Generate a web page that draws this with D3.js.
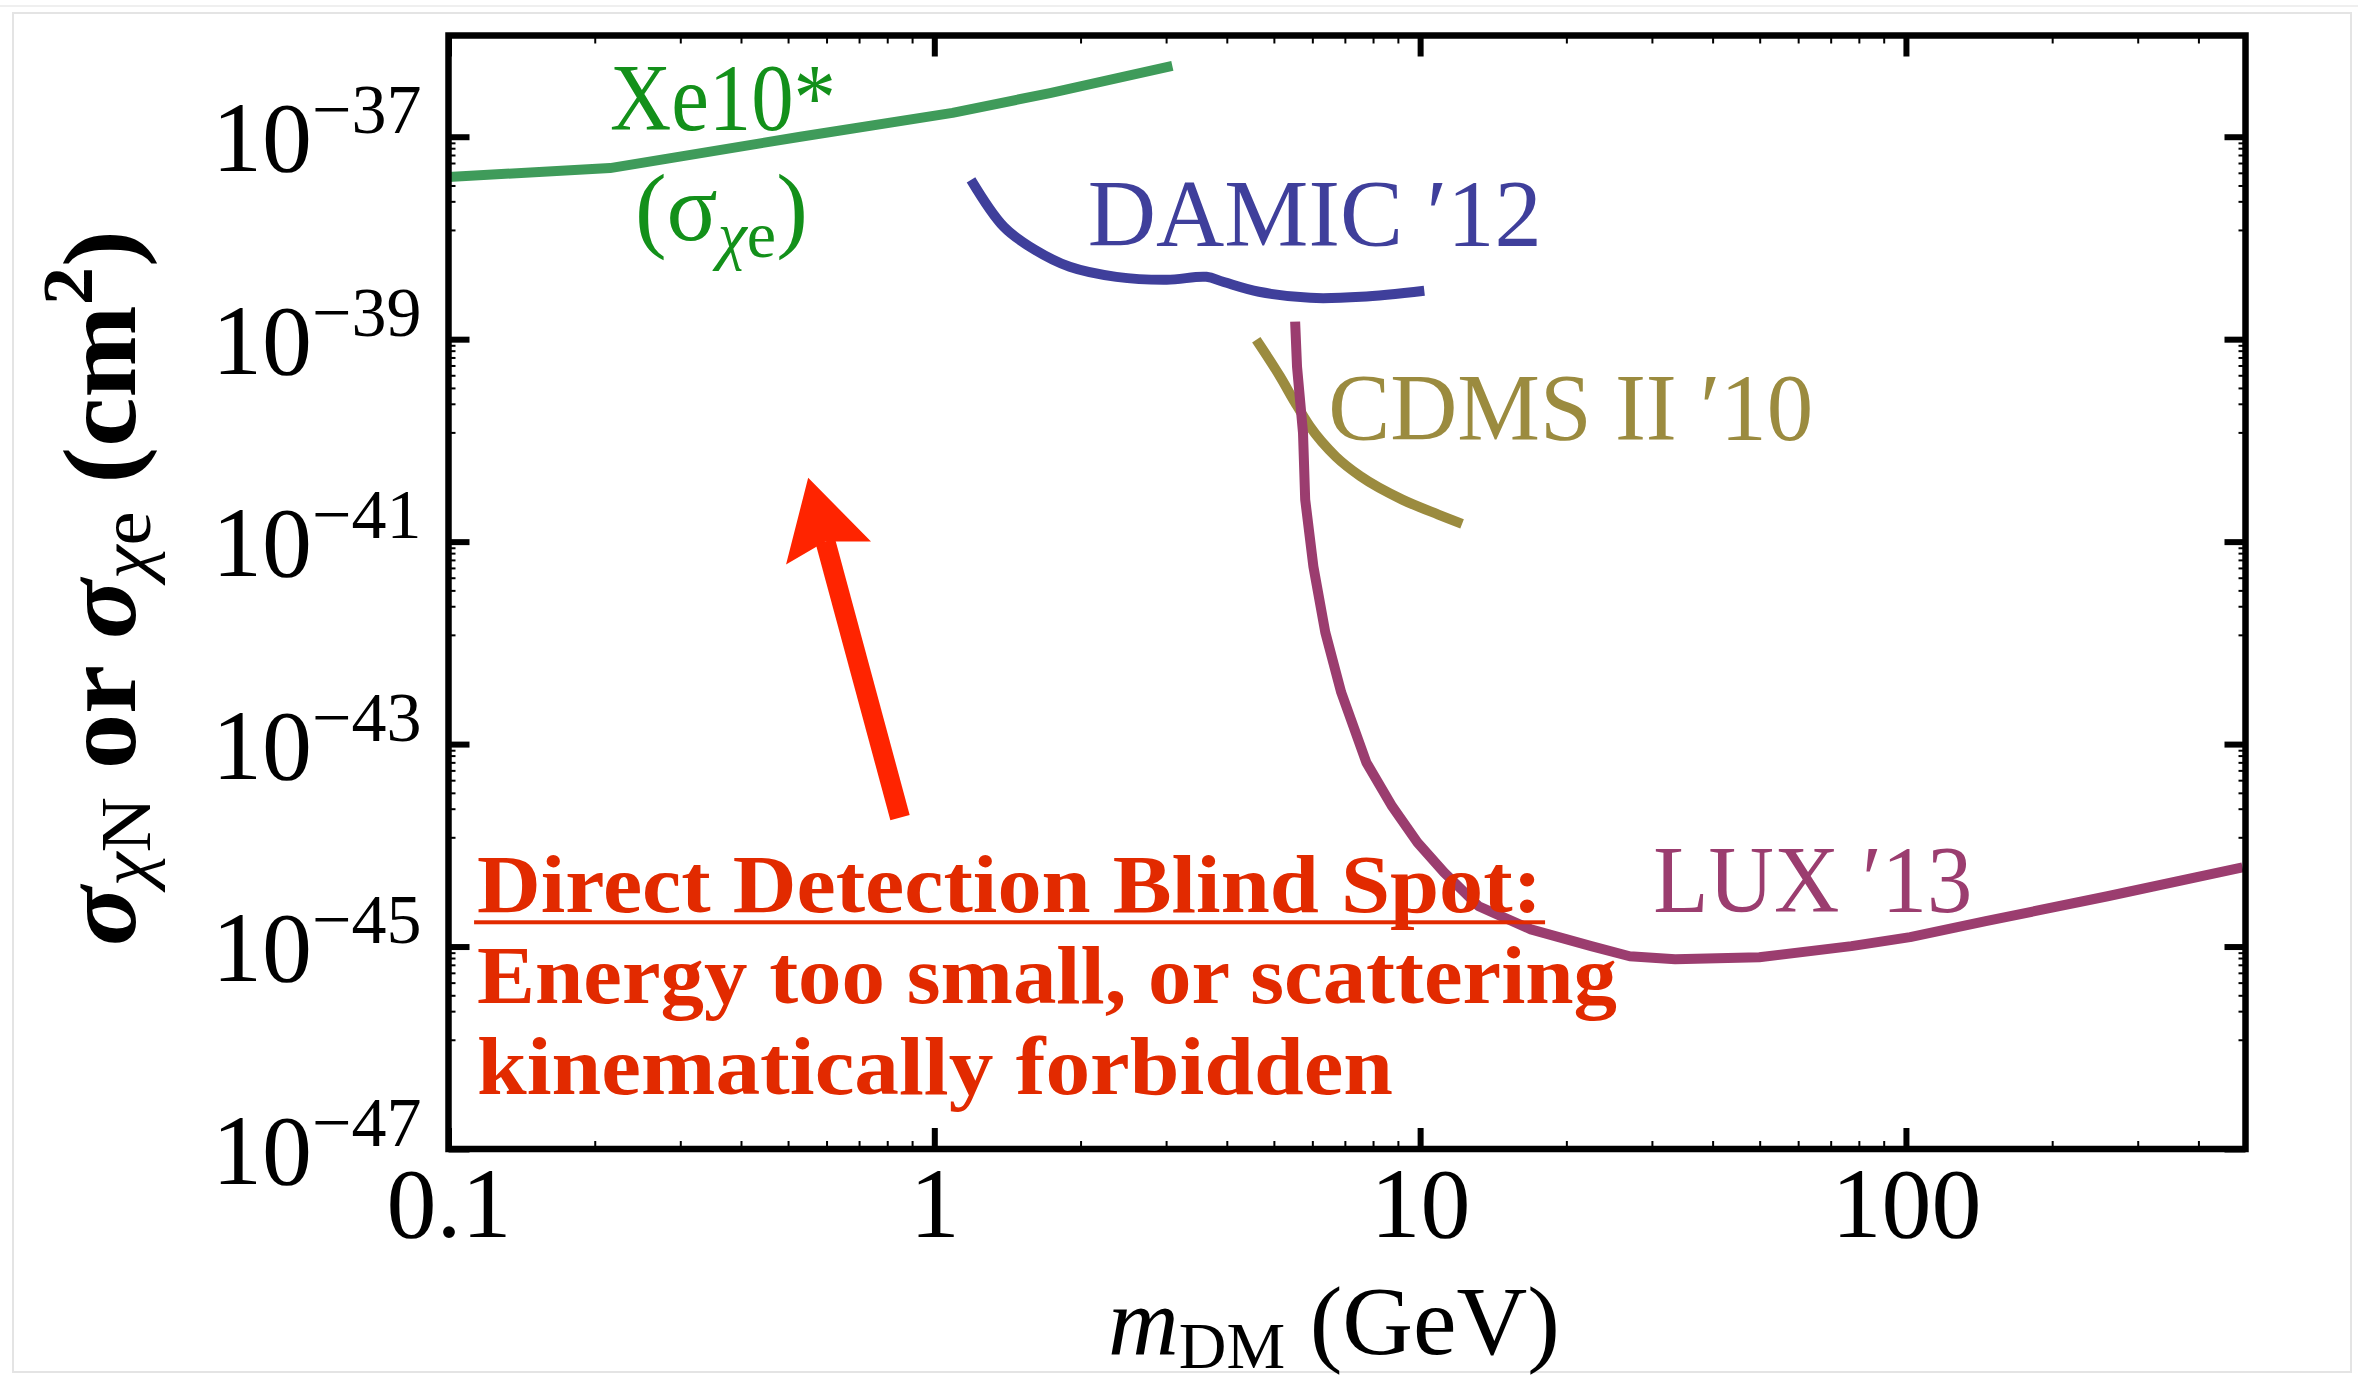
<!DOCTYPE html>
<html><head><meta charset="utf-8">
<script src="https://cdn.jsdelivr.net/npm/d3@7"></script>
<style>body{margin:0;background:#fff} svg{display:block}</style>
</head><body><svg id="c" width="2358" height="1388"></svg>
<script>
// ---------------- data ----------------
const xe10Mass  = [0.1, 0.215, 0.53, 1.09, 1.73, 3.09];
const xe10Sigma = [4.0e-38, 4.9e-38, 1.0e-37, 1.72e-37, 2.7e-37, 5.0e-37];

const damicMass  = [1.19, 1.39, 1.61, 1.90, 2.37, 3.01, 3.63, 3.93, 4.66, 5.94, 7.56, 10.2];
const damicSigma = [3.75e-38, 1.29e-38, 7.64e-39, 5.19e-39, 4.13e-39, 3.86e-39, 4.13e-39, 3.69e-39, 2.94e-39, 2.56e-39, 2.62e-39, 3.01e-39];

const cdmsMass  = [4.60, 5.15, 5.53, 5.94, 6.71, 7.56, 9.19, 10.9, 12.2];
const cdmsSigma = [9.86e-40, 4.26e-40, 2.36e-40, 1.36e-40, 6.9e-41, 4.38e-41, 2.6e-41, 1.85e-41, 1.5e-41];

const luxMass  = [5.53, 5.58, 5.74, 5.80, 6.03, 6.38, 6.88, 7.75, 8.76, 9.87, 11.2, 13.2, 16.9, 22.5, 27.0, 33.5, 49.9, 77.2, 102, 146, 260, 493];
const luxSigma = [1.49e-39, 5.35e-40, 1.19e-40, 2.6e-41, 5.67e-42, 1.27e-42, 3.24e-43, 6.59e-44, 2.42e-44, 1.07e-44, 5.41e-45, 2.5e-45, 1.48e-45, 1.01e-45, 8.02e-46, 7.5e-46, 7.84e-46, 1.01e-45, 1.24e-45, 1.78e-45, 3.14e-45, 6.07e-45];

const xTickValues = [0.1, 1, 10, 100];
const xTickLabels = ["0.1", "1", "10", "100"];
const yTickExponents = [-47, -45, -43, -41, -39, -37];
const yMinorMultipliers = [0.87, 0.77, 0.66, 0.55, 0.44, 0.33, 0.23, 0.12];

const curveLabels = [
  {text: "DAMIC \u203212", m: 2.07, s: 8.35e-39, color: "#3f3f9b", len: 454},
  {text: "CDMS II \u203210", m: 6.47, s: 1.02e-40, color: "#9b8b3f", len: 485},
  {text: "LUX \u203213", m: 30.2, s: 2.18e-45, color: "#9b3d6f", len: 319},
  {text: "Xe10*", m: 0.215, s: 1.17e-37, color: "#13901a", len: 226}
];
const blindLines = ["Direct Detection Blind Spot:", "Energy too small, or scattering", "kinematically forbidden"];
const blindAnchor = {m: 0.1145, s: 2.18e-45};
const arrowTail = {m: 0.85, s: 1.88e-44};
const arrowTip  = {m: 0.55, s: 4.28e-41};

// ---------------- layout ----------------
const svg = d3.select("#c");
const L = 448.5, R = 2245.5, T = 35.5, B = 1149;
const x = d3.scaleLog().domain([0.1, 500]).range([L, R]);
const y = d3.scaleLog().domain([1e-47, 1e-36]).range([B, T]);
const FONT = "'Liberation Serif', 'Times New Roman', serif";

// faint page border
svg.append("line").attr("x1",0).attr("x2",2358).attr("y1",6).attr("y2",6).attr("stroke","#efefef").attr("stroke-width",2);
svg.append("rect").attr("x",13).attr("y",13).attr("width",2338).attr("height",1359)
  .attr("fill","none").attr("stroke","#e4e4e4").attr("stroke-width",2);

// clip
svg.append("clipPath").attr("id","plotclip").append("rect")
  .attr("x",L).attr("y",T).attr("width",R-L).attr("height",B-T);

// ---------------- ticks ----------------
const xMinor = [];
[0.1, 1, 10, 100].forEach(d => { for (let k = 2; k <= 9; k++) { const v = d*k; if (v < 500) xMinor.push(v); } });
const yMajor = yTickExponents.map(e => Math.pow(10, e));
const yMinor = [];
yTickExponents.forEach(e => yMinorMultipliers.forEach(mm => { const v = mm*Math.pow(10, e); if (v > 1e-47) yMinor.push(v); }));

function styleTicks(g, w) {
  g.select(".domain").remove();
  g.selectAll(".tick line").attr("stroke","#000").attr("stroke-width",w);
  g.selectAll(".tick text").remove();
}
// bottom
const gxb = svg.append("g").attr("transform",`translate(0,${B})`);
gxb.append("g").call(d3.axisBottom(x).tickValues(xMinor).tickSize(-8).tickFormat("")).call(g=>styleTicks(g,2));
const gxbM = gxb.append("g").call(d3.axisBottom(x).tickValues(xTickValues).tickSize(-21).tickFormat(""));
styleTicks(gxbM, 6);
gxbM.selectAll(".tick").append("text").text((d,i)=>xTickLabels[i])
  .attr("y", 88).attr("text-anchor","middle").attr("fill","#000")
  .style("font-family",FONT).style("font-size","100px");
// top
const gxt = svg.append("g").attr("transform",`translate(0,${T})`);
gxt.append("g").call(d3.axisTop(x).tickValues(xMinor).tickSize(-8).tickFormat("")).call(g=>styleTicks(g,2));
gxt.append("g").call(d3.axisTop(x).tickValues(xTickValues).tickSize(-21).tickFormat("")).call(g=>styleTicks(g,6));
// left
const gyl = svg.append("g").attr("transform",`translate(${L},0)`);
gyl.append("g").call(d3.axisLeft(y).tickValues(yMinor).tickSize(-7).tickFormat("")).call(g=>styleTicks(g,2));
const gylM = gyl.append("g").call(d3.axisLeft(y).tickValues(yMajor).tickSize(-21).tickFormat(""));
styleTicks(gylM, 6);
const ylab = gylM.selectAll(".tick").append("text")
  .attr("x", -27).attr("y", 34).attr("text-anchor","end").attr("fill","#000")
  .style("font-family",FONT).style("font-size","100px");
ylab.append("tspan").text("10");
ylab.append("tspan").attr("dy",-38).style("font-size","70px").text((d,i)=>"\u2212" + String(-yTickExponents[i]));
// right
const gyr = svg.append("g").attr("transform",`translate(${R},0)`);
gyr.append("g").call(d3.axisRight(y).tickValues(yMinor).tickSize(-7).tickFormat("")).call(g=>styleTicks(g,2));
gyr.append("g").call(d3.axisRight(y).tickValues(yMajor).tickSize(-21).tickFormat("")).call(g=>styleTicks(g,6));

// ---------------- curves ----------------
const plot = svg.append("g").attr("clip-path","url(#plotclip)");
function drawCurve(ms, ss, color, curve) {
  const pts = ms.map((m,i)=>[m, ss[i]]);
  plot.append("path").datum(pts)
    .attr("d", d3.line().x(d=>x(d[0])).y(d=>y(d[1])).curve(curve))
    .attr("fill","none").attr("stroke",color).attr("stroke-width",10)
    .attr("stroke-linejoin","round");
}
drawCurve(xe10Mass, xe10Sigma, "#3f9b5a", d3.curveLinear);
drawCurve(damicMass, damicSigma, "#3f3f9b", d3.curveCatmullRom.alpha(0.5));
drawCurve(cdmsMass, cdmsSigma, "#9b8b3f", d3.curveMonotoneX);
drawCurve(luxMass, luxSigma, "#9b3d6f", d3.curveLinear);

// frame
svg.append("rect").attr("x",L).attr("y",T).attr("width",R-L).attr("height",B-T)
  .attr("fill","none").attr("stroke","#000").attr("stroke-width",6.5);

// ---------------- curve labels ----------------
curveLabels.forEach(c => {
  svg.append("text").attr("x", x(c.m)).attr("y", y(c.s))
    .attr("fill", c.color).attr("textLength", c.len).attr("lengthAdjust","spacingAndGlyphs")
    .style("font-family",FONT).style("font-size","95px").text(c.text);
});
// (σχe)
const sx = svg.append("text").attr("x", x(0.242)).attr("y", y(9.57e-39)).attr("fill","#13901a")
  .style("font-family",FONT).style("font-size","95px");
sx.append("tspan").text("(\u03c3");
sx.append("tspan").attr("dy",17).style("font-size","66px").style("font-style","italic").text("\u03c7");
sx.append("tspan").style("font-size","66px").text("e");
sx.append("tspan").attr("dy",-17).text(")");

// ---------------- blind spot annotation ----------------
const red = "#e22a00";
const bx = x(blindAnchor.m), by = y(blindAnchor.s);
const blindLens = [1065, 1140, 916];
blindLines.forEach((t,i) => {
  svg.append("text").attr("x", bx).attr("y", by + i*91).attr("fill", red)
    .attr("textLength", blindLens[i]).attr("lengthAdjust","spacingAndGlyphs")
    .style("font-family",FONT).style("font-weight","bold").style("font-size","83px").text(t);
});
svg.append("rect").attr("x", bx - 3).attr("y", by + 8).attr("width", blindLens[0] + 6).attr("height", 4).attr("fill", red);

// arrow
const tx = x(arrowTail.m), ty = y(arrowTail.s), hx = x(arrowTip.m), hy = y(arrowTip.s);
const len = Math.hypot(hx-tx, hy-ty), ux = (hx-tx)/len, uy = (hy-ty)/len, nx = -uy, ny = ux;
const headLen = 78, headHalf = 44, notch = 12, shaftW = 20;
const bcx = hx - ux*headLen, bcy = hy - uy*headLen;
svg.append("line").attr("x1",tx).attr("y1",ty).attr("x2",bcx+ux*notch).attr("y2",bcy+uy*notch)
  .attr("stroke","#ff2400").attr("stroke-width",shaftW);
svg.append("path").attr("fill","#ff2400").attr("d",
  `M${hx},${hy} L${bcx+nx*headHalf},${bcy+ny*headHalf} L${bcx+ux*notch},${bcy+uy*notch} L${bcx-nx*headHalf},${bcy-ny*headHalf} Z`);

// ---------------- axis titles ----------------
const xt = svg.append("text").attr("x",1108).attr("y",1354).attr("fill","#000")
  .style("font-family",FONT).style("font-size","98px");
xt.append("tspan").style("font-style","italic").text("m");
xt.append("tspan").attr("dy",14).style("font-size","66px").text("DM");
xt.append("tspan").attr("dy",-14).text(" (GeV)");

const yt = svg.append("text").attr("transform","translate(135,588) rotate(-90)")
  .attr("text-anchor","middle").attr("fill","#000")
  .attr("textLength", 716).attr("lengthAdjust","spacingAndGlyphs")
  .style("font-family",FONT).style("font-size","104px");
yt.append("tspan").style("font-style","italic").style("font-weight","bold").text("\u03c3");
yt.append("tspan").attr("dy",15).style("font-size","72px").style("font-style","italic").text("\u03c7");
yt.append("tspan").style("font-size","72px").text("N");
yt.append("tspan").attr("dy",-15).style("font-weight","bold").text(" or ");
yt.append("tspan").style("font-style","italic").style("font-weight","bold").text("\u03c3");
yt.append("tspan").attr("dy",15).style("font-size","72px").style("font-style","italic").text("\u03c7");
yt.append("tspan").style("font-size","72px").text("e");
yt.append("tspan").attr("dy",-15).style("font-weight","bold").text(" (cm");
yt.append("tspan").attr("dy",-43).style("font-size","72px").style("font-weight","bold").text("2");
yt.append("tspan").attr("dy",43).style("font-weight","bold").text(")");
</script></body></html>
